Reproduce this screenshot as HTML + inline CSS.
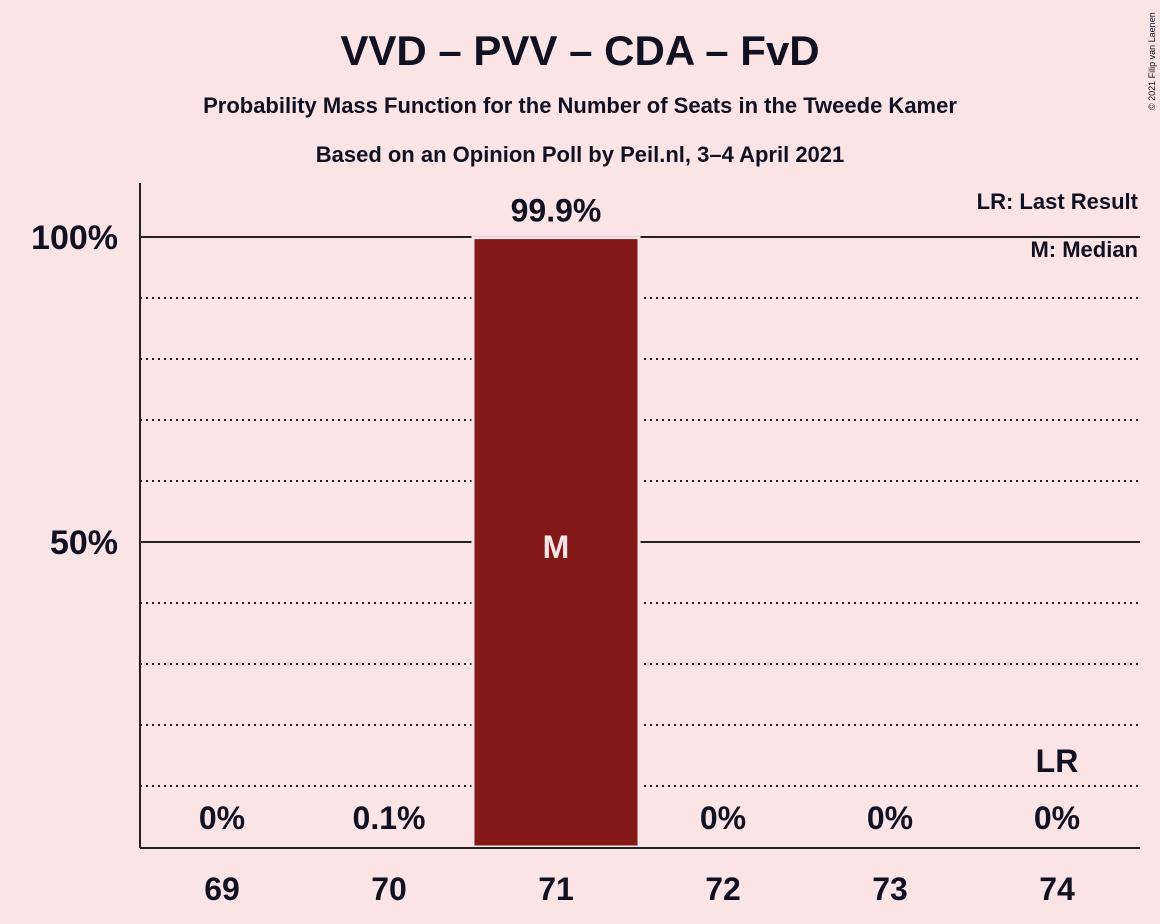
<!DOCTYPE html>
<html><head><meta charset="utf-8"><style>
body{margin:0;background:#fbe4e6;}
svg{display:block;font-family:"Liberation Sans",sans-serif;font-weight:bold;fill:#111122;}
</style></head><body>
<svg width="1160" height="924">
<rect width="1160" height="924" fill="#fbe4e6"/>
<text x="580" y="65" font-size="42" text-anchor="middle">VVD – PVV – CDA – FvD</text>
<text x="580" y="113" font-size="22" text-anchor="middle">Probability Mass Function for the Number of Seats in the Tweede Kamer</text>
<text x="580" y="162" font-size="22" text-anchor="middle">Based on an Opinion Poll by Peil.nl, 3–4 April 2021</text>
<text x="1155" y="110" font-size="9" font-weight="normal" transform="rotate(-90 1155 110)">© 2021 Filip van Laenen</text>
<g id="grid"></g>
<g id="bars"></g>
<line x1="140" y1="183" x2="140" y2="848" stroke="#222" stroke-width="2"/>
<line x1="140" y1="848" x2="1140" y2="848" stroke="#222" stroke-width="2"/>
<text x="1138" y="209" font-size="22" font-weight="normal" text-anchor="end" style="font-weight:600">LR: Last Result</text>
<text x="1138" y="257" font-size="22" text-anchor="end" style="font-weight:600">M: Median</text>
</svg>
<script>
const seats=[69,70,71,72,73,74];
const probs=[0,0.1,99.9,0,0,0];
const labels=["0%","0.1%","99.9%","0%","0%","0%"];
const medianSeat=71;
const lastResultSeat=74;
const yTicks=[50,100];
const NS="http://www.w3.org/2000/svg";
const x=s=>222+(s-69)*167;
const y=v=>847-v*6.1;
const grid=document.getElementById('grid'),bars=document.getElementById('bars');
function mk(tag,attrs,parent,txt){const e=document.createElementNS(NS,tag);for(const k in attrs)e.setAttribute(k,attrs[k]);if(txt!==undefined)e.textContent=txt;parent.appendChild(e);return e;}
for(let v=10;v<=100;v+=10){
 const solid=yTicks.includes(v);
 const l=mk('line',{x1:140,x2:1140,y1:y(v),y2:y(v),stroke:'#222','stroke-width':solid?2:2,'stroke-dasharray':solid?'':'2,4'},grid);
 
 
}
yTicks.forEach(t=>{
 const tx=mk('text',{x:118,y:y(t)+12,'font-size':34,'text-anchor':'end'},grid,t+'%');
 
 
});
seats.forEach((s,i)=>{
 const h=probs[i]*6.1;
 if(h>0.5){
  const r=mk('rect',{x:x(s)-83,y:847-h,width:166,height:h,fill:'#831818',stroke:'#fbe4e6','stroke-width':3},bars);
  
  
 }
 const big=h>50;
 const lt=mk('text',{x:x(s),y:big?y(probs[i])-16:829,'font-size':32,'text-anchor':'middle'},bars,labels[i]);
 
 
 const xt=mk('text',{x:x(s),y:900,'font-size':32,'text-anchor':'middle'},bars,String(s));
 
 
 if(s===medianSeat){
  const m=mk('text',{x:x(s),y:558,'font-size':32,'text-anchor':'middle',fill:'#fbe4e6'},bars,'M');
  
  
 }
 if(s===lastResultSeat){
  const lr=mk('text',{x:x(s),y:772,'font-size':32,'text-anchor':'middle'},bars,'LR');
  
  
 }
});
</script>
</body></html>
